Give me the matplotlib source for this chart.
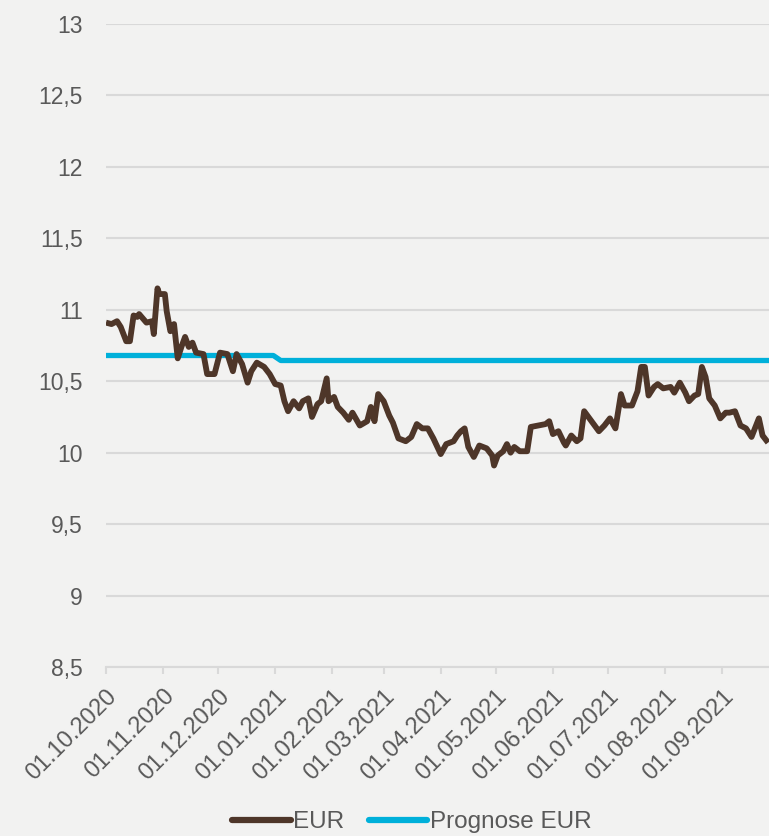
import numpy as np
import pandas as pd
import matplotlib
matplotlib.use("Agg")
import matplotlib.pyplot as plt
import matplotlib.dates as mdates

plt.rcParams['font.family'] = ['Liberation Sans', 'DejaVu Sans']

# ===== DATA =====
eur_dates = [
    "2020-10-01", "2020-10-04", "2020-10-07", "2020-10-09", "2020-10-12", "2020-10-14",
    "2020-10-16", "2020-10-18", "2020-10-19", "2020-10-23", "2020-10-26", "2020-10-27",
    "2020-10-29", "2020-10-30", "2020-11-02", "2020-11-03", "2020-11-05", "2020-11-07",
    "2020-11-09", "2020-11-11", "2020-11-13", "2020-11-15", "2020-11-17", "2020-11-19",
    "2020-11-23", "2020-11-25", "2020-11-29", "2020-12-02", "2020-12-06", "2020-12-09",
    "2020-12-11", "2020-12-14", "2020-12-17", "2020-12-19", "2020-12-22", "2020-12-26",
    "2020-12-29", "2021-01-01", "2021-01-04", "2021-01-06", "2021-01-08", "2021-01-11",
    "2021-01-14", "2021-01-16", "2021-01-19", "2021-01-21", "2021-01-24", "2021-01-26",
    "2021-01-29", "2021-01-30", "2021-02-02", "2021-02-04", "2021-02-07", "2021-02-10",
    "2021-02-12", "2021-02-16", "2021-02-20", "2021-02-22", "2021-02-24", "2021-02-26",
    "2021-03-01", "2021-03-04", "2021-03-06", "2021-03-09", "2021-03-13", "2021-03-16",
    "2021-03-19", "2021-03-22", "2021-03-25", "2021-03-28", "2021-04-01", "2021-04-04",
    "2021-04-08", "2021-04-10", "2021-04-12", "2021-04-14", "2021-04-16", "2021-04-19",
    "2021-04-22", "2021-04-26", "2021-04-29", "2021-04-30", "2021-05-02", "2021-05-05",
    "2021-05-07", "2021-05-09", "2021-05-11", "2021-05-14", "2021-05-18", "2021-05-20",
    "2021-05-24", "2021-05-28", "2021-05-30", "2021-06-01", "2021-06-04", "2021-06-07",
    "2021-06-08", "2021-06-11", "2021-06-14", "2021-06-16", "2021-06-18", "2021-06-22",
    "2021-06-26", "2021-06-29", "2021-07-02", "2021-07-05", "2021-07-08", "2021-07-10",
    "2021-07-14", "2021-07-17", "2021-07-19", "2021-07-21", "2021-07-23", "2021-07-26",
    "2021-07-28", "2021-07-31", "2021-08-04", "2021-08-06", "2021-08-09", "2021-08-12",
    "2021-08-14", "2021-08-17", "2021-08-19", "2021-08-21", "2021-08-23", "2021-08-25",
    "2021-08-28", "2021-08-31", "2021-09-03", "2021-09-05", "2021-09-08", "2021-09-11",
    "2021-09-14", "2021-09-17", "2021-09-21", "2021-09-23", "2021-09-26",
]
eur_values = [
    10.91, 10.90, 10.92, 10.88, 10.78, 10.78,
    10.96, 10.95, 10.97, 10.91, 10.92, 10.83,
    11.15, 11.11, 11.11, 10.99, 10.85, 10.90,
    10.66, 10.74, 10.81, 10.74, 10.77, 10.70,
    10.69, 10.55, 10.55, 10.70, 10.69, 10.57,
    10.69, 10.62, 10.49, 10.57, 10.63, 10.60,
    10.55, 10.48, 10.47, 10.36, 10.29, 10.36,
    10.31, 10.36, 10.38, 10.25, 10.34, 10.36,
    10.52, 10.36, 10.39, 10.32, 10.28, 10.23,
    10.28, 10.19, 10.22, 10.32, 10.22, 10.41,
    10.36, 10.26, 10.21, 10.10, 10.08, 10.11,
    10.20, 10.17, 10.17, 10.10, 9.99, 10.06,
    10.08, 10.12, 10.15, 10.17, 10.04, 9.97,
    10.05, 10.03, 9.98, 9.91, 9.98, 10.01,
    10.06, 10.00, 10.04, 10.01, 10.01, 10.18,
    10.19, 10.20, 10.22, 10.13, 10.15, 10.07,
    10.05, 10.12, 10.08, 10.10, 10.29, 10.22,
    10.15, 10.19, 10.24, 10.17, 10.41, 10.33,
    10.33, 10.43, 10.60, 10.60, 10.40, 10.46,
    10.48, 10.45, 10.46, 10.42, 10.49, 10.42,
    10.36, 10.40, 10.41, 10.60, 10.53, 10.38,
    10.33, 10.24, 10.28, 10.28, 10.29, 10.19,
    10.17, 10.11, 10.24, 10.12, 10.07,
]

prog_dates = ["2020-10-01", "2020-12-31", "2021-01-04", "2021-09-30"]
prog_values = [10.68, 10.68, 10.645, 10.645]

yticks = [8.5, 9, 9.5, 10, 10.5, 11, 11.5, 12, 12.5, 13]
xtick_dates = pd.date_range("2020-10-01", "2021-09-01", freq="MS")

eur_x = pd.to_datetime(eur_dates)
prog_x = pd.to_datetime(prog_dates)

# ===== FIGURE =====
bg = "#f2f2f1"
fig = plt.figure(figsize=(7.69, 8.36), dpi=100, facecolor=bg)
ax = fig.add_axes([106 / 769, 1 - 667 / 836, 1 - 106 / 769, (667 - 24) / 836])
ax.set_facecolor(bg)

ax.plot(eur_x, eur_values, color="#4e3629", lw=4.2, label="EUR",
        solid_capstyle="butt", solid_joinstyle="round", zorder=3)
ax.plot(prog_x, prog_values, color="#00b0da", lw=3.8, label="Prognose EUR",
        solid_capstyle="butt", zorder=2)

ax.set_ylim(8.5, 13)
ax.set_yticks(yticks)
ax.set_yticklabels([f"{v:g}".replace(".", ",") for v in yticks])
ax.set_xlim(pd.Timestamp("2020-10-01"), pd.Timestamp("2021-09-26 12:00"))
ax.set_xticks(xtick_dates)
ax.xaxis.set_major_formatter(mdates.DateFormatter("%d.%m.%Y"))

ax.grid(axis="y", color="#d9d9d9", lw=1.5, zorder=0)
ax.grid(axis="x", visible=False)
for side in ["top", "right", "left"]:
    ax.spines[side].set_visible(False)
ax.spines["bottom"].set_color("#d9d9d9")
ax.spines["bottom"].set_linewidth(1.5)

ax.tick_params(axis="y", length=0, pad=16.5, labelsize=16.5, labelcolor="#595959")
ax.tick_params(axis="x", length=5, width=1.5, color="#d9d9d9", pad=8,
               labelsize=17, labelcolor="#595959")
plt.setp(ax.get_xticklabels(), rotation=45, ha="right", rotation_mode="anchor")

leg = fig.legend(loc="center", bbox_to_anchor=(412 / 769, 1 - 822 / 836), ncol=2,
                 frameon=False, fontsize=17.5, handlelength=2.4, handletextpad=0.12,
                 columnspacing=1.0, labelcolor="#595959")
for line in leg.get_lines():
    line.set_linewidth(4.5)
    line.set_solid_capstyle("round")

fig.savefig("out.png", dpi=100, facecolor=bg)
